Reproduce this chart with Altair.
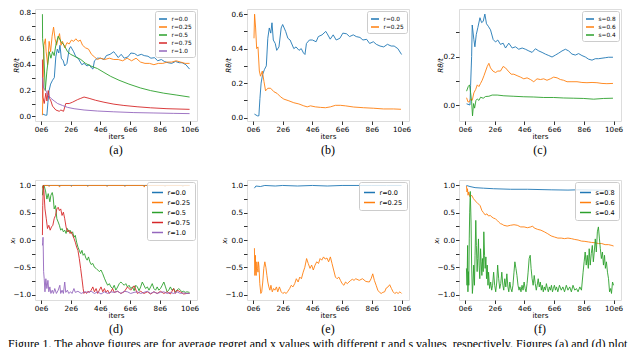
import altair as alt
import pandas as pd

# ---------------- data (x in units of 1e6 iterations) ----------------
A_LABELS = ["r=0.0", "r=0.25", "r=0.5", "r=0.75", "r=1.0"]
B_LABELS = ["r=0.0", "r=0.25"]
C_LABELS = ["s=0.8", "s=0.6", "s=0.4"]

R00_REGRET = [[0.1,0.02],[0.3,0.01],[0.4,0.01],[0.47,0.11],[0.55,0.2],[0.65,0.25],[0.78,0.28],[0.9,0.3],
    [1.0,0.46],[1.1,0.52],[1.2,0.49],[1.28,0.55],[1.37,0.45],[1.5,0.43],[1.6,0.39],[1.75,0.41],[1.9,0.52],
    [2.0,0.54],[2.2,0.5],[2.35,0.46],[2.5,0.45],[2.75,0.40],[2.9,0.41],[3.1,0.39],[3.25,0.40],[3.4,0.375],
    [3.5,0.366],[3.6,0.43],[3.8,0.45],[4.0,0.45],[4.25,0.44],[4.4,0.47],[4.65,0.48],[4.9,0.5],[5.0,0.486],
    [5.2,0.455],[5.4,0.48],[5.6,0.45],[5.85,0.46],[6.05,0.49],[6.3,0.486],[6.5,0.47],[6.75,0.48],[6.95,0.47],
    [7.2,0.465],[7.4,0.45],[7.65,0.454],[7.85,0.43],[8.1,0.44],[8.3,0.425],[8.55,0.415],[8.8,0.41],[9.05,0.425],
    [9.3,0.415],[9.5,0.415],[9.75,0.40],[10.0,0.366]]

A_R025 = [[0.1,0.01],[0.15,0.3],[0.2,0.55],[0.3,0.6],[0.35,0.5],[0.45,0.4],[0.55,0.58],[0.65,0.5],[0.75,0.62],
    [0.85,0.69],[0.95,0.6],[1.05,0.55],[1.15,0.6],[1.25,0.64],[1.35,0.55],[1.45,0.58],[1.6,0.53],[1.75,0.57],
    [1.9,0.56],[2.05,0.59],[2.2,0.58],[2.35,0.6],[2.5,0.58],[2.65,0.59],[2.8,0.55],[3.0,0.53],[3.2,0.52],
    [3.4,0.48],[3.6,0.46],[3.8,0.44],[4.0,0.45],[4.3,0.44],[4.6,0.45],[4.9,0.44],[5.2,0.44],[5.5,0.43],
    [5.8,0.45],[6.1,0.43],[6.4,0.45],[6.7,0.42],[7.0,0.41],[7.3,0.41],[7.6,0.40],[7.9,0.41],[8.2,0.41],
    [8.5,0.42],[8.8,0.42],[9.1,0.43],[9.4,0.42],[9.7,0.41],[10.0,0.41]]

A_R05 = [[0.1,0.79],[0.11,0.6],[0.18,0.52],[0.29,0.2],[0.4,0.35],[0.56,0.5],[0.67,0.45],[0.78,0.5],[0.89,0.47],
    [1.0,0.55],[1.16,0.62],[1.34,0.58],[1.56,0.55],[1.79,0.5],[2.0,0.48],[2.34,0.46],[2.68,0.44],[3.0,0.41],
    [3.35,0.39],[3.8,0.37],[4.24,0.34],[4.69,0.31],[5.25,0.28],[5.92,0.25],[6.7,0.22],[7.37,0.2],[8.26,0.18],
    [9.15,0.165],[10.0,0.15]]

A_R075 = [[0.1,0.44],[0.13,0.15],[0.22,0.1],[0.33,0.18],[0.4,0.12],[0.49,0.2],[0.58,0.14],[0.67,0.12],
    [0.78,0.08],[1.0,0.05],[1.23,0.04],[1.34,0.05],[1.52,0.04],[1.67,0.1],[1.9,0.1],[2.12,0.11],[2.46,0.13],
    [2.68,0.14],[2.9,0.15],[3.24,0.14],[3.68,0.125],[4.24,0.11],[4.91,0.095],[5.58,0.085],[6.47,0.075],
    [7.37,0.067],[8.48,0.06],[10.0,0.055]]

A_R10 = [[0.1,0.3],[0.18,0.22],[0.33,0.2],[0.45,0.17],[0.67,0.14],[0.89,0.12],[1.12,0.1],[1.45,0.085],
    [1.79,0.07],[2.23,0.06],[2.9,0.05],[3.8,0.042],[4.9,0.036],[6.25,0.03],[7.6,0.027],[8.9,0.024],[10.0,0.022]]

B_R025 = [[0.07,0.46],[0.11,0.6],[0.18,0.52],[0.25,0.4],[0.34,0.41],[0.43,0.27],[0.51,0.24],[0.63,0.27],
    [0.74,0.21],[0.85,0.155],[1.0,0.17],[1.19,0.17],[1.41,0.15],[1.63,0.14],[1.86,0.12],[2.08,0.107],
    [2.42,0.097],[2.75,0.086],[3.09,0.079],[3.42,0.068],[3.65,0.062],[3.87,0.068],[4.2,0.062],[4.54,0.059],
    [4.88,0.057],[5.21,0.062],[5.55,0.071],[5.88,0.071],[6.22,0.068],[6.78,0.061],[7.45,0.057],[8.12,0.054],
    [8.79,0.05],[9.46,0.05],[9.96,0.048]]

C_S08 = [[0.11,0.005],[0.34,0.0],[0.38,0.08],[0.45,0.2],[0.49,0.33],[0.6,0.27],[0.67,0.24],[0.76,0.29],
    [0.87,0.32],[1.01,0.36],[1.12,0.34],[1.23,0.345],[1.34,0.375],[1.45,0.335],[1.57,0.325],[1.72,0.31],
    [1.9,0.27],[2.06,0.26],[2.21,0.268],[2.39,0.25],[2.57,0.255],[2.73,0.235],[2.95,0.255],[3.18,0.235],
    [3.4,0.24],[3.62,0.23],[3.85,0.235],[4.07,0.23],[4.3,0.223],[4.52,0.217],[4.74,0.232],[4.97,0.223],
    [5.19,0.217],[5.41,0.21],[5.64,0.204],[5.86,0.198],[6.09,0.206],[6.31,0.214],[6.53,0.223],[6.76,0.23],
    [6.98,0.223],[7.2,0.21],[7.43,0.206],[7.65,0.212],[7.87,0.204],[8.1,0.198],[8.32,0.189],[8.55,0.185],
    [8.77,0.191],[8.99,0.191],[9.22,0.193],[9.44,0.195],[9.66,0.197],[9.96,0.197]]

C_S06 = [[0.11,0.03],[0.2,0.013],[0.29,0.013],[0.38,0.025],[0.49,0.019],[0.6,0.05],[0.72,0.064],[0.83,0.083],
    [0.94,0.076],[1.05,0.089],[1.16,0.102],[1.28,0.121],[1.39,0.14],[1.5,0.159],[1.61,0.172],[1.72,0.153],
    [1.88,0.14],[2.06,0.134],[2.21,0.14],[2.39,0.14],[2.57,0.159],[2.73,0.153],[2.91,0.14],[3.11,0.127],
    [3.29,0.127],[3.51,0.121],[3.74,0.115],[3.96,0.108],[4.18,0.112],[4.41,0.105],[4.63,0.096],[4.85,0.108],
    [5.08,0.105],[5.3,0.108],[5.52,0.102],[5.75,0.108],[5.97,0.115],[6.2,0.112],[6.42,0.105],[6.64,0.102],
    [6.87,0.096],[7.2,0.096],[7.54,0.096],[7.87,0.093],[8.21,0.092],[8.55,0.093],[8.88,0.092],[9.22,0.089],
    [9.55,0.088],[9.96,0.089]]

C_S04 = [[0.11,0.057],[0.22,0.076],[0.31,0.083],[0.38,0.051],[0.45,0.013],[0.51,-0.045],[0.58,0.006],
    [0.65,-0.013],[0.74,0.019],[0.83,0.025],[0.94,0.019],[1.05,0.032],[1.23,0.028],[1.39,0.035],[1.61,0.036],
    [1.83,0.041],[2.17,0.041],[2.62,0.038],[3.29,0.036],[3.96,0.034],[4.63,0.033],[5.3,0.031],[5.97,0.031],
    [6.64,0.029],[7.32,0.028],[7.99,0.027],[8.66,0.024],[9.33,0.027],[9.96,0.028]]

D_R00 = [[0.1,0.97],[0.2,1.0],[10.0,1.0]]

D_R025 = [[0.1,0.95],[0.15,1.0],[0.5,1.0],[0.55,0.98],[0.6,1.0],[1.2,1.0],[1.25,0.97],[1.3,1.0],[2.0,1.0],
    [2.05,0.98],[2.1,1.0],[3.1,1.0],[3.15,0.98],[3.2,1.0],[4.4,1.0],[4.45,0.98],[4.5,1.0],[5.6,1.0],[5.65,0.98],
    [5.7,1.0],[6.9,1.0],[6.95,0.97],[7.0,1.0],[8.3,1.0],[8.35,0.98],[8.4,1.0],[9.5,1.0],[9.55,0.98],[9.6,1.0],
    [10.0,1.0]]

D_R05 = [[0.1,0.82],[0.15,1.0],[0.22,0.99],[0.31,0.9],[0.4,0.75],[0.49,0.85],[0.6,0.7],[0.67,0.82],[0.76,0.87],
    [0.82,0.79],[0.89,0.57],[0.98,0.63],[1.07,0.39],[1.16,0.33],[1.24,0.27],[1.33,0.18],[1.42,0.21],[1.51,0.15],
    [1.6,0.18],[1.69,0.12],[1.78,0.21],[1.87,0.15],[1.96,0.18],[2.04,0.12],[2.13,0.15],[2.22,0.05],[2.31,0.085],
    [2.4,-0.04],[2.49,-0.13],[2.58,-0.19],[2.67,-0.25],[2.76,-0.19],[2.84,-0.28],[2.93,-0.25],[3.02,-0.33],
    [3.11,-0.37],[3.2,-0.31],[3.29,-0.4],[3.38,-0.45],[3.49,-0.43],[3.6,-0.5],[3.71,-0.52],[3.82,-0.55],
    [3.93,-0.58],[4.04,-0.55],[4.16,-0.62],[4.27,-0.7],[4.38,-0.77],[4.49,-0.83],[4.6,-0.8],[4.71,-0.86],
    [4.82,-0.89],[4.93,-0.83],[5.04,-0.92],[5.16,-0.86],[5.27,-0.8],[5.38,-0.77],[5.49,-0.8],[5.6,-0.83],
    [5.71,-0.8],[5.82,-0.86],[5.93,-0.83],[6.04,-0.89],[6.16,-0.86],[6.27,-0.93],[6.38,-0.83],[6.49,-0.86],
    [6.6,-0.93],[6.71,-0.86],[6.82,-0.77],[6.93,-0.83],[7.04,-0.89],[7.16,-0.86],[7.27,-0.92],[7.38,-0.86],
    [7.49,-0.8],[7.6,-0.89],[7.71,-0.92],[7.82,-0.86],[7.93,-0.92],[8.04,-0.89],[8.16,-0.83],[8.27,-0.77],
    [8.38,-0.86],[8.49,-0.95],[8.6,-0.92],[8.71,-0.86],[8.82,-0.92],[8.93,-0.89],[9.04,-0.95],[9.16,-0.92],
    [9.27,-0.89],[9.38,-0.92],[9.49,-0.95],[9.6,-0.94],[9.71,-0.96],[9.82,-0.95],[10.0,-0.96]]

D_R075 = [[0.1,0.09],[0.12,0.63],[0.16,1.0],[0.2,0.9],[0.27,0.57],[0.36,0.39],[0.44,0.21],[0.53,0.27],
    [0.62,0.18],[0.71,0.24],[0.8,0.27],[0.89,0.39],[0.98,0.45],[1.07,0.57],[1.16,0.6],[1.24,0.54],[1.33,0.57],
    [1.42,0.45],[1.51,0.51],[1.6,0.39],[1.69,0.24],[1.78,0.15],[1.87,0.18],[1.96,0.12],[2.04,0.15],[2.13,0.09],
    [2.22,0.03],[2.31,-0.04],[2.4,-0.13],[2.49,-0.19],[2.58,-0.34],[2.67,-0.52],[2.76,-0.71],[2.84,-0.89],
    [2.89,-0.98],[2.98,-0.95],[3.07,-0.98],[3.16,-0.94],[3.27,-0.96],[3.38,-0.92],[3.49,-0.86],[3.6,-0.95],
    [3.71,-0.89],[3.82,-0.98],[3.93,-0.92],[4.04,-0.86],[4.16,-0.95],[4.27,-0.89],[4.38,-0.96],[4.49,-0.92],
    [4.6,-0.98],[4.71,-0.95],[4.82,-0.89],[4.93,-0.96],[5.16,-0.94],[5.38,-0.98],[5.6,-0.95],[5.82,-0.86],
    [6.04,-0.92],[6.27,-0.84],[6.49,-0.98],[6.71,-0.94],[6.93,-0.98],[7.16,-0.95],[7.38,-0.99],[7.6,-0.95],
    [7.82,-0.98],[8.04,-0.94],[8.27,-0.98],[8.49,-0.95],[8.71,-0.99],[8.93,-0.89],[9.04,-0.98],[9.16,-0.92],
    [9.38,-0.95],[9.6,-0.99],[9.82,-0.98],[10.0,-0.98]]

D_R10 = [[0.1,-0.1],[0.12,-0.04],[0.14,0.05],[0.16,-0.22],[0.18,-0.58],[0.22,-0.71],[0.27,-0.95],[0.33,-0.71],
    [0.4,-0.89],[0.47,-0.74],[0.53,-0.95],[0.6,-0.86],[0.67,-0.98],[0.76,-0.92],[0.84,-0.98],[0.93,-0.89],
    [1.04,-0.98],[1.16,-0.92],[1.27,-0.83],[1.33,-0.98],[1.42,-0.92],[1.51,-0.98],[1.6,-0.77],[1.67,-0.96],
    [1.78,-0.92],[1.87,-0.98],[2.0,-0.95],[2.09,-0.98],[2.22,-0.89],[2.31,-0.96],[2.49,-0.94],[2.71,-0.98],
    [2.93,-0.95],[3.16,-0.96],[3.38,-0.94],[3.6,-0.98],[3.82,-0.95],[4.04,-0.99],[4.27,-0.95],[4.49,-0.98],
    [4.71,-0.95],[4.93,-0.96],[5.16,-0.94],[5.38,-0.98],[5.6,-0.94],[5.82,-0.95],[6.04,-0.98],[6.27,-0.96],
    [6.49,-0.95],[6.71,-0.98],[6.93,-0.96],[7.16,-0.94],[7.38,-0.98],[7.6,-0.95],[7.82,-0.98],[8.04,-0.96],
    [8.27,-0.95],[8.49,-0.98],[8.71,-0.96],[8.93,-0.98],[9.16,-0.95],[9.38,-0.98],[9.6,-0.97],[9.82,-0.98],
    [10.0,-0.98]]

E_R00 = [[0.1,0.95],[0.2,0.99],[0.5,0.98],[0.8,1.0],[1.5,0.99],[2.0,1.0],[3.0,0.99],[4.0,1.0],[5.0,0.99],
    [6.0,1.0],[7.0,1.0],[8.0,1.0],[9.0,1.0],[10.0,1.0]]

E_R025 = [[0.1,-0.15],[0.13,-0.65],[0.16,-0.28],[0.19,-0.59],[0.22,-0.65],[0.26,-0.4],[0.3,-0.52],[0.34,-0.59],
    [0.37,-0.4],[0.41,-0.5],[0.46,-0.8],[0.53,-0.98],[0.59,-0.95],[0.66,-0.77],[0.73,-0.52],[0.8,-0.4],
    [0.87,-0.5],[0.94,-0.65],[1.0,-0.77],[1.07,-0.86],[1.14,-0.92],[1.21,-0.83],[1.3,-0.95],[1.39,-0.89],
    [1.48,-0.92],[1.58,-0.86],[1.67,-0.95],[1.78,-0.86],[1.9,-0.95],[2.01,-0.98],[2.12,-0.96],[2.24,-0.98],
    [2.35,-0.94],[2.47,-0.89],[2.58,-0.83],[2.69,-0.86],[2.81,-0.8],[2.92,-0.71],[3.04,-0.77],[3.15,-0.68],
    [3.26,-0.71],[3.38,-0.59],[3.49,-0.5],[3.61,-0.34],[3.72,-0.43],[3.84,-0.52],[3.95,-0.46],[4.06,-0.55],
    [4.18,-0.46],[4.29,-0.4],[4.41,-0.43],[4.52,-0.34],[4.63,-0.37],[4.75,-0.31],[4.86,-0.35],[4.98,-0.33],
    [5.09,-0.4],[5.21,-0.31],[5.32,-0.43],[5.43,-0.55],[5.55,-0.68],[5.66,-0.71],[5.78,-0.68],[5.89,-0.74],
    [6.0,-0.8],[6.12,-0.83],[6.23,-0.77],[6.35,-0.8],[6.46,-0.77],[6.58,-0.74],[6.69,-0.72],[6.8,-0.74],
    [6.92,-0.71],[7.15,-0.74],[7.37,-0.71],[7.6,-0.76],[7.83,-0.77],[7.95,-0.71],[8.06,-0.62],[8.17,-0.74],
    [8.29,-0.83],[8.4,-0.92],[8.52,-0.96],[8.63,-0.98],[8.74,-0.96],[8.86,-0.95],[8.97,-0.88],[9.09,-0.86],
    [9.2,-0.82],[9.32,-0.89],[9.43,-0.95],[9.54,-0.98],[9.66,-0.96],[9.77,-0.98],[9.89,-0.95],[10.0,-0.98]]

F_S08 = [[0.1,1.0],[0.34,0.98],[0.68,0.96],[1.25,0.95],[1.93,0.94],[3.07,0.93],[4.2,0.93],[5.8,0.92],
    [6.93,0.915],[7.6,0.92],[10.0,0.91]]

F_S06 = [[0.1,0.99],[0.14,0.88],[0.17,0.94],[0.21,0.82],[0.25,0.88],[0.34,0.79],[0.45,0.82],[0.57,0.76],
    [0.68,0.72],[0.8,0.69],[0.91,0.66],[1.02,0.63],[1.14,0.54],[1.25,0.5],[1.36,0.46],[1.48,0.48],[1.59,0.44],
    [1.7,0.45],[1.82,0.42],[1.93,0.4],[2.05,0.39],[2.16,0.36],[2.27,0.33],[2.39,0.3],[2.5,0.29],[2.61,0.27],
    [2.84,0.255],[3.07,0.27],[3.3,0.28],[3.52,0.27],[3.75,0.24],[3.98,0.24],[4.2,0.225],[4.43,0.24],
    [4.55,0.255],[4.66,0.22],[4.89,0.195],[5.11,0.18],[5.34,0.15],[5.57,0.115],[5.8,0.075],[6.02,0.055],
    [6.25,0.035],[6.48,0.035],[6.7,0.025],[6.93,0.035],[7.16,0.025],[7.39,0.01],[7.61,0.0],[7.84,-0.02],
    [8.07,-0.025],[8.3,-0.035],[8.52,-0.045],[8.75,-0.05],[8.98,-0.065],[9.2,-0.065],[9.43,-0.085],
    [9.66,-0.085],[9.89,-0.1],[10.0,-0.11]]

F_S04 = [[0.1,-0.52],[0.14,-0.83],[0.18,-0.1],[0.2,-0.95],[0.23,-0.58],[0.26,-0.83],[0.29,0.02],[0.32,0.51],
    [0.36,0.89],[0.41,0.33],[0.45,-0.46],[0.5,-0.98],[0.55,-0.77],[0.59,-0.46],[0.64,-0.83],[0.68,-0.28],
    [0.73,0.36],[0.77,-0.1],[0.82,-0.58],[0.86,-0.34],[0.91,0.02],[0.95,-0.46],[1.0,-0.71],[1.05,-0.16],
    [1.09,-0.4],[1.14,-0.65],[1.18,-0.34],[1.23,-0.58],[1.27,0.15],[1.32,-0.28],[1.36,-0.52],[1.41,-0.31],
    [1.45,-0.71],[1.5,-0.46],[1.55,-0.83],[1.59,-0.59],[1.66,-0.89],[1.73,-0.77],[1.8,-0.92],[1.86,-0.83],
    [1.93,-0.59],[2.0,-0.83],[2.07,-0.95],[2.14,-0.77],[2.2,-0.46],[2.27,-0.71],[2.34,-0.89],[2.41,-0.8],
    [2.48,-0.59],[2.55,-0.83],[2.61,-0.92],[2.68,-0.71],[2.75,-0.86],[2.82,-0.62],[2.89,-0.86],[2.95,-0.95],
    [3.02,-0.77],[3.09,-0.89],[3.16,-0.95],[3.23,-0.83],[3.3,-0.59],[3.36,-0.4],[3.43,-0.52],[3.5,-0.65],
    [3.57,-0.83],[3.64,-0.92],[3.7,-0.86],[3.77,-0.95],[3.84,-0.83],[3.91,-0.92],[3.98,-0.77],[4.05,-0.89],
    [4.11,-0.95],[4.18,-0.8],[4.25,-0.59],[4.32,-0.34],[4.39,-0.28],[4.45,-0.52],[4.52,-0.71],[4.59,-0.83],
    [4.66,-0.65],[4.73,-0.8],[4.8,-0.92],[4.86,-0.83],[4.93,-0.71],[5.0,-0.86],[5.07,-0.77],[5.14,-0.92],
    [5.2,-0.83],[5.27,-0.95],[5.34,-0.86],[5.41,-0.92],[5.48,-0.8],[5.55,-0.89],[5.61,-0.95],[5.68,-0.86],
    [5.75,-0.92],[5.82,-0.83],[5.89,-0.95],[5.95,-0.89],[6.02,-0.83],[6.09,-0.92],[6.16,-0.86],[6.25,-0.95],
    [6.36,-0.83],[6.48,-0.92],[6.59,-0.86],[6.7,-0.95],[6.82,-0.83],[6.93,-0.92],[7.05,-0.86],[7.16,-0.95],
    [7.27,-0.83],[7.39,-0.92],[7.5,-0.89],[7.61,-0.95],[7.73,-0.86],[7.84,-0.92],[7.95,-0.59],[8.02,-0.4],
    [8.09,-0.22],[8.16,-0.46],[8.23,-0.28],[8.3,-0.52],[8.36,-0.16],[8.43,-0.46],[8.5,-0.25],[8.57,-0.1],
    [8.64,-0.4],[8.7,-0.22],[8.77,0.02],[8.84,-0.22],[8.91,0.15],[8.98,0.24],[9.05,0.02],[9.11,-0.16],
    [9.18,-0.34],[9.25,-0.22],[9.32,-0.46],[9.39,-0.28],[9.45,-0.52],[9.52,-0.4],[9.59,-0.59],[9.66,-0.71],
    [9.73,-0.95],[9.8,-0.89],[9.86,-0.98],[9.93,-0.77],[10.0,-0.83]]

X_TICKS = [0, 2, 4, 6, 8, 10]
X_DOMAIN = [-0.4, 10.5]
CAPTION = ("Figure 1. The above figures are for average regret and x values with different r and s values, "
           "respectively. Figures (a) and (d) plot")

COLORS = ["#1f77b4", "#ff7f0e", "#2ca02c", "#d62728", "#9467bd"]
SANS = "DejaVu Sans"
SERIF = "Liberation Serif"
TICK_FS = 7.2
TITLE_FS = 7.2


def panel(series, labels, ydomain, yvals, ylabel_expr, ytitle, caption, leg, w, h, ytp):
    xaxis = alt.Axis(values=X_TICKS, labelExpr="datum.value + 'e6'", grid=False, domain=False,
                     tickSize=3.5, tickColor="black", tickWidth=0.8, labelColor="black",
                     labelFont=SANS, labelFontSize=TICK_FS, labelPadding=0.5,
                     titleFont=SANS, titleFontSize=TITLE_FS, titleFontWeight="normal",
                     titleColor="black", titlePadding=0.5)
    yaxis = alt.Axis(values=yvals, labelExpr=ylabel_expr, grid=False, domain=False,
                     tickSize=3.5, tickColor="black", tickWidth=0.8, labelColor="black",
                     labelFont=SANS, labelFontSize=TICK_FS, labelPadding=1,
                     titleFont=SANS, titleFontSize=TITLE_FS, titleFontWeight="normal",
                     titleFontStyle="italic", titleColor="black", titlePadding=ytp)
    cscale = alt.Scale(domain=labels, range=COLORS[:len(labels)])
    legend = alt.Legend(title=None, orient="top-right", offset=2, padding=leg["pad"],
                        symbolType="stroke", symbolSize=leg["sym"], symbolStrokeWidth=1.5,
                        labelFont=SANS, labelFontSize=leg["font"], labelColor="black",
                        labelOffset=3.5, rowPadding=leg["row"], strokeColor="#cccccc",
                        fillColor="rgba(255,255,255,0.8)", cornerRadius=2)
    layers = []
    for lab, pts in zip(labels, series):
        df = pd.DataFrame(pts, columns=["x", "y"])
        df["s"] = lab
        layers.append(
            alt.Chart(df).mark_line(strokeWidth=0.9, clip=True).encode(
                x=alt.X("x:Q", scale=alt.Scale(domain=X_DOMAIN, nice=False, zero=False),
                        axis=xaxis, title="iters"),
                y=alt.Y("y:Q", scale=alt.Scale(domain=ydomain, nice=False, zero=False),
                        axis=yaxis, title=ytitle),
                color=alt.Color("s:N", scale=cscale, legend=legend),
                order=alt.Order("x:Q"),
            )
        )
    return alt.layer(*layers).properties(
        width=w, height=h,
        title=alt.TitleParams(caption, orient="bottom", font=SERIF, fontSize=12,
                              fontWeight="normal", color="black", offset=5),
    )


TOP_LEG = {"pad": 3, "sym": 64, "font": 5.8, "row": -2.5}
BOT_LEG = {"pad": 4, "sym": 121, "font": 6.5, "row": -3.5}

lab10 = "round(datum.value*10) % 2 == 0 ? format(datum.value, '.1f') : ''"
lab4 = "round(datum.value*4) % 2 == 0 ? format(datum.value, '.1f') : ''"

W = 162
H1 = 112
H2 = 120

pa = panel([R00_REGRET, A_R025, A_R05, A_R075, A_R10], A_LABELS, [-0.035, 0.83],
           [0, 0.1, 0.2, 0.3, 0.4, 0.5, 0.6, 0.7, 0.8], lab10, "Rθ/t", "(a)", TOP_LEG, W, H1, -1.5)
pb = panel([R00_REGRET, B_R025], B_LABELS, [-0.02, 0.63],
           [0, 0.1, 0.2, 0.3, 0.4, 0.5, 0.6], lab10, "Rθ/t", "(b)", TOP_LEG, W, H1, -1.5)
pc = panel([C_S08, C_S06, C_S04], C_LABELS, [-0.066, 0.396],
           [-0.1, 0, 0.1, 0.2, 0.3], lab10, "Rθ/t", "(c)", TOP_LEG, W, H1, -1.5)

yv = [-1, -0.75, -0.5, -0.25, 0, 0.25, 0.5, 0.75, 1]
pd_ = panel([D_R00, D_R025, D_R05, D_R075, D_R10], A_LABELS, [-1.1, 1.1], yv, lab4,
            "xₜ", "(d)", BOT_LEG, W, H2, -3.5)
pe = panel([E_R00, E_R025], B_LABELS, [-1.1, 1.1], yv, lab4, "xₜ", "(e)", BOT_LEG, W, H2, -3.5)
pf = panel([F_S08, F_S06, F_S04], C_LABELS, [-1.1, 1.1], yv, lab4, "xₜ", "(f)", BOT_LEG, W, H2, -3.5)

row1 = alt.hconcat(pa, pb, pc, spacing=50, bounds="flush").resolve_scale(color="independent").resolve_legend(color="independent")
row2 = alt.hconcat(pd_, pe, pf, spacing=50, bounds="flush").resolve_scale(color="independent").resolve_legend(color="independent")

chart = alt.vconcat(row1, row2, spacing=22).resolve_scale(
    color="independent").resolve_legend(color="independent").properties(
    title=alt.TitleParams(CAPTION, orient="bottom", anchor="start", font=SERIF, fontSize=12,
                          fontWeight="normal", color="black", offset=4),
    padding=0,
).configure_view(stroke="black", strokeWidth=0.8).configure(background="white")

chart.save("out.html", embed_options={"renderer": "svg", "actions": False})
